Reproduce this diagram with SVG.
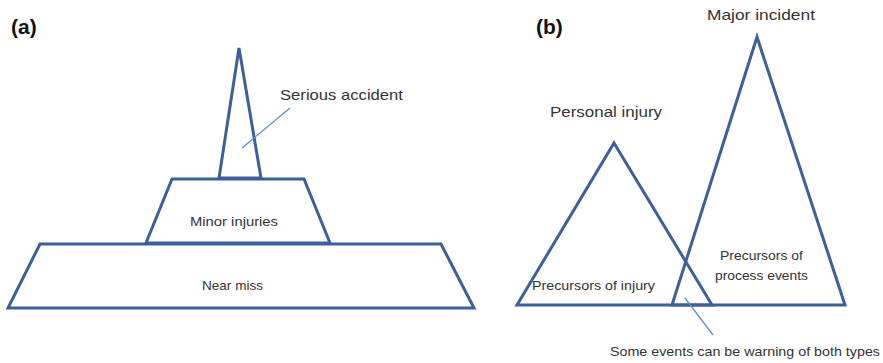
<svg xmlns="http://www.w3.org/2000/svg" width="883" height="363" viewBox="0 0 883 363">
<style>
.shape{fill:none;stroke:#3d5f9a;stroke-width:3;stroke-linejoin:miter}
.lead{stroke:#5b8fcf;stroke-width:1.3;fill:none}
text{font-family:"Liberation Sans",Arial,sans-serif;fill:#333}
.panel{font-size:21px;font-weight:bold;fill:#111}
.big{font-size:15px}
.small{font-size:13.5px}
</style>
<rect width="883" height="363" fill="#fff"/>
<text class="panel" x="11" y="34">(a)</text>
<text class="panel" x="536" y="34">(b)</text>
<g id="near-miss">
<polygon class="shape" points="40,244 441,244 474,308 8,308"/>
<text class="small" x="202" y="290" textLength="61" lengthAdjust="spacingAndGlyphs">Near miss</text>
</g>
<g id="minor-injuries">
<polygon class="shape" points="172,179 304,179 330,243 146,243"/>
<text class="small" x="190" y="226" textLength="88" lengthAdjust="spacingAndGlyphs">Minor injuries</text>
</g>
<g id="serious-accident">
<polygon class="shape" points="239,48 261,178 219,178"/>
<text class="big" x="280" y="100" textLength="123" lengthAdjust="spacingAndGlyphs">Serious accident</text>
</g>
<g id="personal-injury">
<polygon class="shape" points="614,143 712,305 517,305"/>
<text class="big" x="550" y="117" textLength="112" lengthAdjust="spacingAndGlyphs">Personal injury</text>
<text class="small" x="532" y="290" textLength="123" lengthAdjust="spacingAndGlyphs">Precursors of injury</text>
</g>
<g id="major-incident">
<polygon class="shape" points="757,37 845,305 672,305"/>
<text class="big" x="707" y="20" textLength="108" lengthAdjust="spacingAndGlyphs">Major incident</text>
<text class="small" x="720" y="260" textLength="83" lengthAdjust="spacingAndGlyphs">Precursors of</text>
<text class="small" x="715" y="280" textLength="93" lengthAdjust="spacingAndGlyphs">process events</text>
</g>
<g id="both-types">
<text class="small" x="610" y="356" textLength="270" lengthAdjust="spacingAndGlyphs">Some events can be warning of both types</text>
</g>
<g id="connectors">
<line class="lead" x1="290" y1="108" x2="242" y2="148"/>
<line class="lead" x1="685" y1="298" x2="713" y2="335"/>
</g>
</svg>
